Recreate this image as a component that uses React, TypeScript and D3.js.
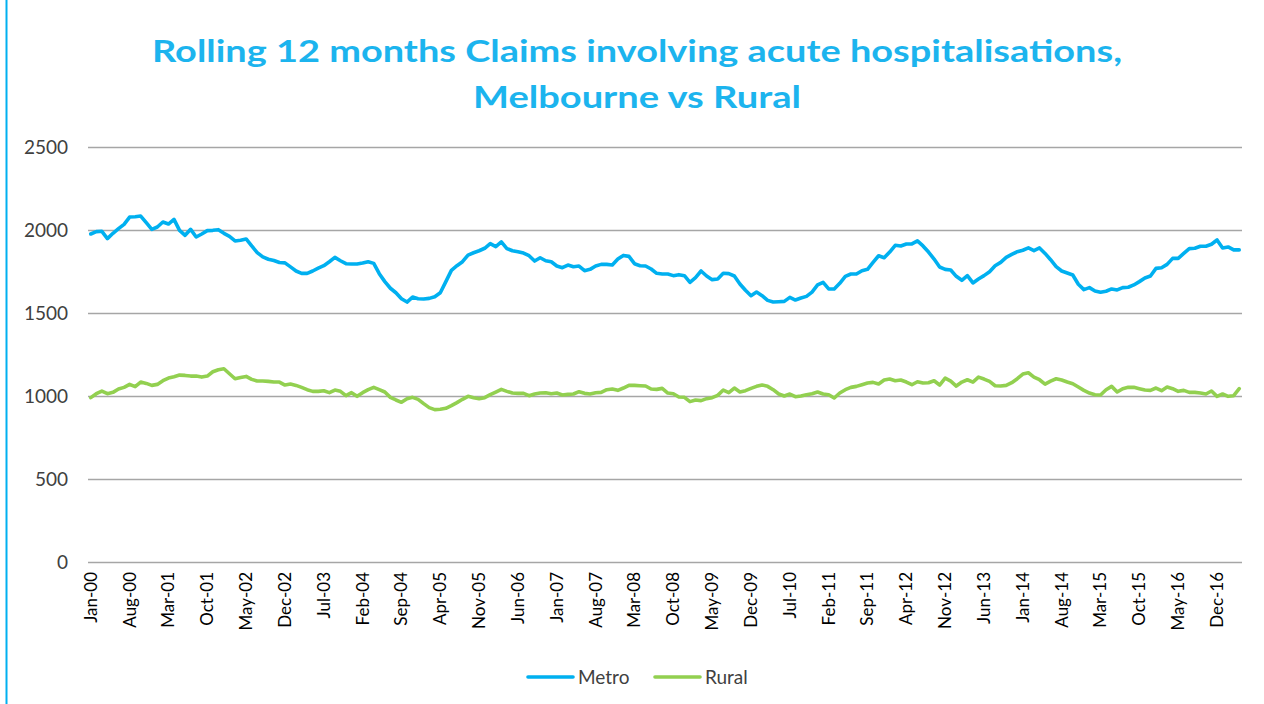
import { useEffect, useRef } from "react";
import * as d3 from "d3";

// monthly, Jan-00 .. Apr-17
const metro = [
  1976, 1990, 1992, 1948, 1980, 2008, 2034, 2078, 2080, 2084,
  2044, 2004, 2018, 2048, 2036, 2064, 1998, 1968, 2004, 1958,
  1976, 1996, 1998, 2002, 1980, 1962, 1934, 1938, 1946, 1904,
  1864, 1838, 1824, 1816, 1804, 1802, 1778, 1753, 1739, 1739,
  1753, 1770, 1785, 1809, 1835, 1815, 1797, 1795, 1795, 1801,
  1809, 1799, 1737, 1689, 1649, 1622, 1586, 1566, 1596, 1586,
  1584, 1588, 1598, 1622, 1689, 1757, 1785, 1809, 1849, 1863,
  1875, 1890, 1918, 1900, 1928, 1888, 1875, 1869, 1861, 1845,
  1813, 1833, 1815, 1809, 1783, 1773, 1789, 1779, 1783, 1755,
  1763, 1783, 1793, 1793, 1789, 1825, 1847, 1841, 1797, 1785,
  1783, 1765, 1739, 1735, 1735, 1725, 1731, 1725, 1685, 1713,
  1753, 1723, 1701, 1705, 1739, 1737, 1723, 1675, 1637, 1604,
  1626, 1604, 1576, 1566, 1568, 1570, 1594, 1578, 1590, 1600,
  1626, 1669, 1685, 1645, 1645, 1679, 1721, 1735, 1735, 1755,
  1763, 1805, 1845, 1833, 1867, 1908, 1904, 1916, 1916, 1934,
  1904, 1867, 1825, 1777, 1763, 1759, 1721, 1697, 1725, 1681,
  1705, 1725, 1749, 1785, 1805, 1835, 1853, 1869, 1878, 1892,
  1876, 1892, 1859, 1821, 1779, 1753, 1741, 1729, 1673, 1641,
  1653, 1633, 1625, 1631, 1645, 1639, 1653, 1655, 1669, 1689,
  1711, 1723, 1769, 1773, 1793, 1829, 1829, 1859, 1888, 1890,
  1902, 1902, 1914, 1940, 1892, 1898, 1880, 1880,
];

const rural = [
  990, 1014, 1030, 1014, 1022, 1042, 1052, 1070, 1056, 1084,
  1076, 1064, 1070, 1092, 1108, 1116, 1126, 1124, 1120, 1120,
  1114, 1120, 1146, 1158, 1164, 1134, 1104, 1112, 1118, 1100,
  1090, 1090, 1088, 1084, 1084, 1066, 1072, 1064, 1052, 1038,
  1028, 1028, 1032, 1020, 1036, 1028, 1002, 1020, 998, 1020,
  1038, 1052, 1038, 1024, 992, 976, 962, 984, 992, 980,
  954, 930, 918, 920, 926, 942, 960, 980, 998, 990,
  984, 990, 1008, 1024, 1040, 1028, 1018, 1016, 1016, 1002,
  1012, 1018, 1020, 1014, 1018, 1006, 1010, 1012, 1026, 1016,
  1012, 1020, 1022, 1038, 1042, 1034, 1048, 1064, 1064, 1062,
  1060, 1042, 1040, 1046, 1018, 1014, 994, 992, 966, 976,
  972, 984, 990, 1004, 1036, 1020, 1048, 1024, 1032, 1046,
  1058, 1066, 1058, 1038, 1012, 1000, 1012, 996, 1000, 1008,
  1014, 1024, 1012, 1008, 988, 1018, 1038, 1052, 1058, 1068,
  1078, 1082, 1072, 1096, 1102, 1092, 1096, 1084, 1068, 1086,
  1078, 1080, 1092, 1066, 1108, 1090, 1060, 1084, 1098, 1084,
  1114, 1102, 1088, 1062, 1060, 1064, 1080, 1104, 1132, 1140,
  1114, 1098, 1072, 1090, 1104, 1096, 1084, 1074, 1054, 1034,
  1018, 1008, 1006, 1038, 1058, 1024, 1044, 1052, 1052, 1044,
  1036, 1034, 1048, 1032, 1054, 1044, 1028, 1034, 1022, 1022,
  1018, 1012, 1030, 998, 1012, 998, 1002, 1044,
];

// one label every 7 months starting Jan-00
const tickLabels = [
  "Jan-00", "Aug-00", "Mar-01", "Oct-01", "May-02", "Dec-02", "Jul-03", "Feb-04",
  "Sep-04", "Apr-05", "Nov-05", "Jun-06", "Jan-07", "Aug-07", "Mar-08", "Oct-08",
  "May-09", "Dec-09", "Jul-10", "Feb-11", "Sep-11", "Apr-12", "Nov-12", "Jun-13",
  "Jan-14", "Aug-14", "Mar-15", "Oct-15", "May-16", "Dec-16",
];
const labelStep = 7;
const yTicks = [0, 500, 1000, 1500, 2000, 2500];

const series = [
  { name: "Metro", values: metro, color: "#00B0F0" },
  { name: "Rural", values: rural, color: "#92D050" },
];

const W = 1264, H = 704;
const font = "Lato, 'Open Sans', sans-serif";

export default function App() {
  const ref = useRef<SVGSVGElement>(null);

  useEffect(() => {
    const svg = d3.select(ref.current);
    svg.selectAll("*").remove();

    const x = d3.scaleBand<number>()
      .domain(d3.range(metro.length))
      .range([88, 1242]);
    const y = d3.scaleLinear().domain([0, 2500]).range([562, 147]);
    const cx = (i: number) => (x(i) as number) + x.bandwidth() / 2;

    // frame edge
    svg.append("line")
      .attr("x1", 6.5).attr("x2", 6.5).attr("y1", 0).attr("y2", H)
      .attr("stroke", "#00B0F0").attr("stroke-width", 2);

    // title
    const title = svg.append("text")
      .attr("text-anchor", "middle")
      .attr("fill", "#1CB4EE")
      .attr("font-family", font)
      .attr("font-weight", "bold")
      .attr("font-size", 31);
    title.append("tspan").attr("x", 637).attr("y", 62)
      .attr("textLength", 970).attr("lengthAdjust", "spacingAndGlyphs")
      .text("Rolling 12 months Claims involving acute hospitalisations,");
    title.append("tspan").attr("x", 637).attr("y", 108)
      .attr("textLength", 328).attr("lengthAdjust", "spacingAndGlyphs")
      .text("Melbourne vs Rural");

    // gridlines + y labels
    const yAxis = svg.append("g");
    yAxis.selectAll("line")
      .data(yTicks)
      .join("line")
      .attr("x1", 88).attr("x2", 1242)
      .attr("y1", (d) => Math.round(y(d)) + 0.5)
      .attr("y2", (d) => Math.round(y(d)) + 0.5)
      .attr("stroke", "#A6A6A6")
      .attr("stroke-width", 1.3);
    yAxis.selectAll("text")
      .data(yTicks)
      .join("text")
      .attr("x", 68)
      .attr("y", (d) => y(d))
      .attr("dy", "0.35em")
      .attr("text-anchor", "end")
      .attr("font-family", font)
      .attr("font-size", 19)
      .attr("fill", "#404040")
      .text((d) => d);

    // x labels, rotated
    svg.append("g").selectAll("text")
      .data(tickLabels)
      .join("text")
      .attr("transform", (_, k) => `translate(${cx(k * labelStep)},572) rotate(-90)`)
      .attr("dy", "0.35em")
      .attr("text-anchor", "end")
      .attr("font-family", font)
      .attr("font-size", 17)
      .attr("fill", "#000")
      .text((d) => d);

    const line = d3.line<number>()
      .x((_, i) => cx(i))
      .y((d) => y(d));

    svg.append("g").selectAll("path")
      .data(series)
      .join("path")
      .attr("d", (s) => line(s.values))
      .attr("fill", "none")
      .attr("stroke", (s) => s.color)
      .attr("stroke-width", 3.6)
      .attr("stroke-linejoin", "round")
      .attr("stroke-linecap", "round");

    // legend
    const legendX = [528, 655];
    const lg = svg.append("g").selectAll("g")
      .data(series)
      .join("g")
      .attr("transform", (_, i) => `translate(${legendX[i]},677)`);
    lg.append("line")
      .attr("x1", 0).attr("x2", 45)
      .attr("stroke", (s) => s.color)
      .attr("stroke-width", 3.6)
      .attr("stroke-linecap", "round");
    lg.append("text")
      .attr("x", 50)
      .attr("dy", "0.35em")
      .attr("font-family", font)
      .attr("font-size", 19)
      .attr("fill", "#404040")
      .text((s) => s.name);
  }, []);

  return (
    <svg
      ref={ref}
      width={W}
      height={H}
      style={{ position: "absolute", left: 0, top: 0, background: "#fff" }}
    />
  );
}
